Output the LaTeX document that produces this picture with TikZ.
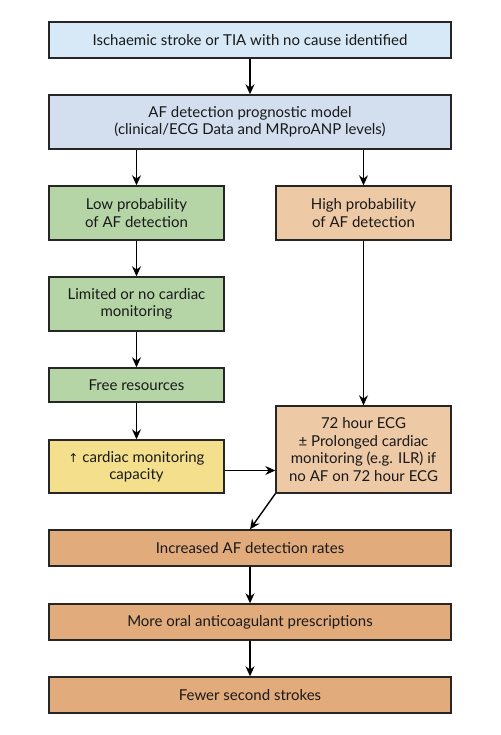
\documentclass[tikz,border=0pt]{standalone}
\usepackage{fontspec}
\setmainfont{Lato}
\newfontfamily\symfont{DejaVu Sans}
\usetikzlibrary{arrows.meta}
\definecolor{startblue}{HTML}{D7E9F6}
\definecolor{modelblue}{HTML}{D3DFEF}
\definecolor{lowgreen}{HTML}{B5D5A7}
\definecolor{highpeach}{HTML}{EEC9A6}
\definecolor{capyellow}{HTML}{F4DF8C}
\definecolor{outorange}{HTML}{E2AB7C}
\begin{document}
\begin{tikzpicture}[x=1pt, y=-1pt,
    box/.style={rectangle, draw=black!85, line width=1.4pt, align=center,
      inner sep=0pt, text=black!90, font=\fontsize{15}{17.4}\selectfont},
    wide/.style={box, minimum width=402pt, minimum height=36pt},
    half/.style={box, minimum width=175pt, minimum height=54pt}]
    \useasboundingbox (0,0) rectangle (500,735);
    \begin{scope}
      \node [wide, fill=startblue] (tia) at (250,40)
      {Ischaemic stroke or TIA with no cause identified};
      \node [wide, fill=modelblue, minimum height=54pt] (model) at (250,122)
      {AF detection prognostic model\\(clinical/ECG Data and MRproANP levels)};
      \node [half, fill=lowgreen] (low) at (136.5,213) {Low probability\\of AF detection};
      \node [half, fill=highpeach] (high) at (363.5,213) {High probability\\of AF detection};
      \node [half, fill=lowgreen] (limited) at (136.5,304) {Limited or no cardiac\\monitoring};
      \node [half, fill=lowgreen, minimum height=34pt] (free) at (136.5,385) {Free resources};
      \node [half, fill=capyellow, minimum height=53pt] (cap) at (136.5,466.5)
      {{\symfont\fontsize{12}{17}\selectfont↑} cardiac monitoring\\capacity};
      \node [half, fill=highpeach, minimum height=87pt] (ecg) at (363.5,449.5)
      {72 hour ECG\\± Prolonged cardiac\\monitoring (e.g. ILR) if\\no AF on 72 hour ECG};
      \node [wide, fill=outorange] (rates) at (250,548) {Increased AF detection rates};
      \node [wide, fill=outorange] (oac) at (250,622) {More oral anticoagulant prescriptions};
      \node [wide, fill=outorange] (fewer) at (250,695) {Fewer second strokes};
    \end{scope}
    \begin{scope}[->, >={Stealth[length=10pt, width=9pt]}, line width=1.4pt]
      \draw (tia) to (model);
      \draw (model.south -| low.north) to (low);
      \draw (model.south -| high.north) to (high);
      \draw (low) to (limited);
      \draw (limited) to (free);
      \draw (free) to (cap);
      \draw (high) to (ecg);
      \draw ([yshift=-4pt]cap.east) to ([yshift=-4pt]cap.east -| ecg.west);
      \draw (ecg.south west) to (rates.north);
      \draw (rates) to (oac);
      \draw (oac) to (fewer);
    \end{scope}
  \end{tikzpicture}
\end{document}
